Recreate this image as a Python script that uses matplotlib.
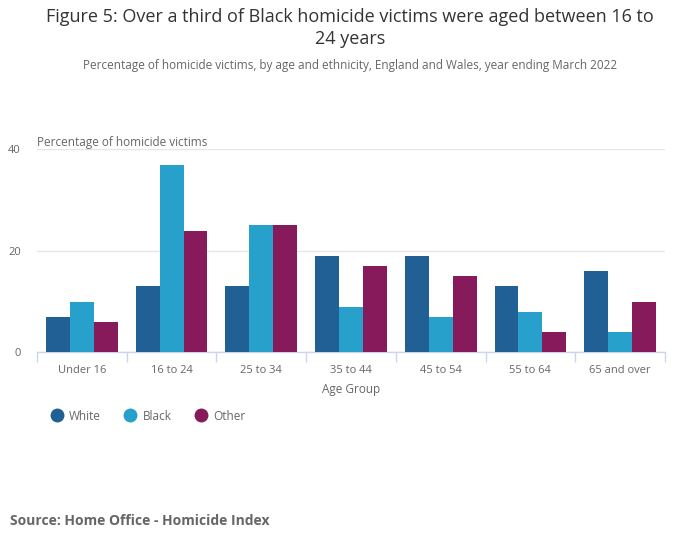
import matplotlib
matplotlib.use("Agg")
import matplotlib.pyplot as plt
import numpy as np
from matplotlib.lines import Line2D

categories = ["Under 16", "16 to 24", "25 to 34", "35 to 44", "45 to 54", "55 to 64", "65 and over"]
white = [7, 13, 13, 19, 19, 13, 16]
black = [10, 37, 25, 9, 7, 8, 4]
other = [6, 24, 25, 17, 15, 4, 10]
series_names = ["White", "Black", "Other"]
colors = ["#206095", "#27a0cc", "#871a5b"]
yticks = [0, 20, 40]

plt.rcParams['font.family'] = ['Open Sans', 'DejaVu Sans']

fig = plt.figure(figsize=(7.0, 5.49), dpi=100)
ax = fig.add_axes([37/700, 1-352.3/549, (665-37)/700, (352.3-149.3)/549])

x = np.arange(len(categories))
w = 0.8/3
for i, (vals, name, c) in enumerate(zip([white, black, other], series_names, colors)):
    ax.bar(x + (i-1)*w, vals, width=w, color=c, label=name, zorder=3)

ax.set_xlim(-0.5, len(categories)-0.5)
ax.set_ylim(0, 40)
ax.set_yticks(yticks)
ax.set_yticklabels([str(t) for t in yticks])
ax.yaxis.grid(True, color="#e6e6e6", linewidth=1, zorder=0)
ax.set_axisbelow(True)
for s in ["top", "right", "left"]:
    ax.spines[s].set_visible(False)
ax.spines["bottom"].set_color("#ccd6eb")
ax.spines["bottom"].set_linewidth(1)
ax.tick_params(axis="y", length=0, pad=11.5, labelsize=8, labelcolor="#666666")
ax.set_xticks(x)
ax.set_xticklabels(categories)
ax.tick_params(axis="x", which="major", length=0, pad=9, labelsize=8, labelcolor="#666666")
ax.set_xticks(np.arange(-0.5, len(categories)), minor=True)
ax.tick_params(axis="x", which="minor", length=7, color="#ccd6eb", width=1)

fig.text(37/700, 1-143/549, "Percentage of homicide victims", fontsize=8.5, color="#666666", va="center", ha="left")
fig.text(351/700, 1-389/549, "Age Group", fontsize=8.5, color="#666666", va="center", ha="center")

fig.text(350/700, 1-17/549, "Figure 5: Over a third of Black homicide victims were aged between 16 to",
         fontsize=13, color="#333333", ha="center", va="center")
fig.text(350/700, 1-39/549, "24 years", fontsize=13, color="#333333", ha="center", va="center")
fig.text(350/700, 1-65/549, "Percentage of homicide victims, by age and ethnicity, England and Wales, year ending March 2022",
         fontsize=8.5, color="#666666", ha="center", va="center")

handles = [Line2D([0], [0], marker="o", linestyle="none", markersize=9, markerfacecolor=c, markeredgecolor=c) for c in colors]
leg = fig.legend(handles, series_names, loc="center left", bbox_to_anchor=(40/700, 1-416/549), ncol=3,
                 frameon=False, fontsize=8.5, handletextpad=0.55, columnspacing=2.0, handlelength=1.0)
for t in leg.get_texts():
    t.set_color("#666666")

fig.text(10/700, 1-521/549, "Source: Home Office - Homicide Index", fontsize=10, fontweight="bold",
         color="#666666", ha="left", va="center")

fig.savefig("out.png", dpi=100)
